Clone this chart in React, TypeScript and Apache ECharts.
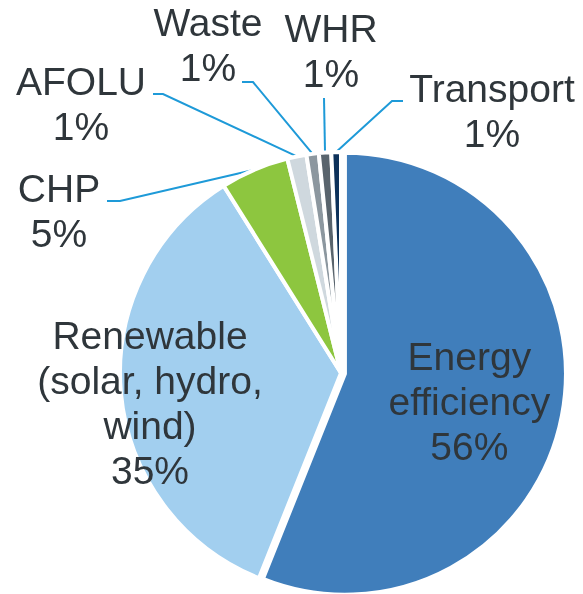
import React, { useEffect, useRef } from "react";
import * as echarts from "echarts";

const categories = [
  "Energy\nefficiency",
  "Renewable\n(solar, hydro,\nwind)",
  "CHP",
  "AFOLU",
  "Waste",
  "WHR",
  "Transport",
];
const values = [56, 35, 5, 1.4, 0.9, 0.9, 0.7];
const colors = ["#407EBB", "#A2CFEF", "#8DC63F", "#CFD8DE", "#8C979F", "#59646D", "#0C315A"];

// label layout (text block centres) and leader bends, in px
const labelCenters: [number, number][] = [
  [469, 401],
  [150, 403],
  [59, 211],
  [81, 104],
  [208, 45],
  [331, 51],
  [492, 111],
];
const leaderBends: ([number, number][] | null)[] = [
  null,
  null,
  [[120, 201], [107, 201]],
  [[163, 94], [153, 94]],
  [[253, 82], [242, 82]],
  [[324, 98], [324, 98]],
  [[392, 101], [403, 101]],
];

export default function App() {
  const ref = useRef<HTMLDivElement>(null);
  useEffect(() => {
    document.body.style.margin = "0";
    const chart = echarts.init(ref.current!, undefined, { renderer: "svg" });
    const data = categories.map((name, i) => ({
      name,
      value: values[i],
      selected: i === 0,
      itemStyle: { color: colors[i] },
      label:
        i === 0
          ? { position: "inside", padding: [0, 0, 0, 26] }
          : { position: i < 2 ? "inside" : "outside" },
      labelLine: { show: i >= 2 },
    }));
    chart.setOption({
      animation: false,
      series: [
        {
          type: "pie",
          center: [341, 373],
          radius: 221,
          startAngle: 90,
          clockwise: true,
          selectedMode: "single",
          selectedOffset: 4,
          avoidLabelOverlap: false,
          data,
          itemStyle: { borderColor: "#ffffff", borderWidth: 4 },
          label: {
            show: true,
            formatter: (p: any) =>
              (p.dataIndex === 0 ? "{gap|}\n" : "") + `${p.name}\n${Math.round(p.percent)}%`,
            fontFamily: "'Liberation Sans', Arial, sans-serif",
            fontSize: 39,
            lineHeight: 45,
            color: "#2F363B",
            align: "center",
            rich: { gap: { fontSize: 1, lineHeight: 13 } },
          },
          labelLine: {
            show: true,
            length: 20,
            length2: 10,
            lineStyle: { color: "#1E9AD8", width: 2 },
          },
          emphasis: { disabled: true },
          labelLayout: (params: any) => {
            const i = params.dataIndex;
            const [x, y] = labelCenters[i];
            const out: any = { x, y, align: "center", verticalAlign: "middle" };
            const bends = leaderBends[i];
            if (bends && params.labelLinePoints) {
              const p0 = params.labelLinePoints[0];
              out.labelLinePoints = [[p0[0], p0[1]], bends[0], bends[1]];
            }
            return out;
          },
        },
      ],
    });
    return () => chart.dispose();
  }, []);
  return (
    <div
      ref={ref}
      style={{ position: "fixed", left: 0, top: 0, width: 583, height: 594 }}
    />
  );
}
